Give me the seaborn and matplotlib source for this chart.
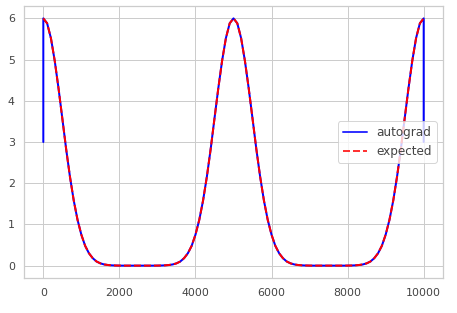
import matplotlib
matplotlib.use("Agg")
import matplotlib.pyplot as plt
import seaborn as sns

sns.set_theme(style="whitegrid")
plt.rcParams['font.family'] = ['DejaVu Sans']

x_values = list(range(0, 10001, 100))

expected = [
    6.00, 5.88, 5.52, 4.97, 4.30, 3.57, 2.83, 2.16, 1.58, 1.11, 0.75, 0.48, 0.30, 0.18, 0.10,
    0.055, 0.029, 0.015, 0.007, 0.003, 0.001, 0.0, 0.0, 0.0, 0.0, 0.0,
    0.0, 0.0, 0.0, 0.0, 0.001, 0.003, 0.007, 0.015, 0.029, 0.055,
    0.10, 0.18, 0.30, 0.48, 0.75, 1.11, 1.58, 2.16, 2.83, 3.57, 4.30, 4.97, 5.52, 5.88,
    6.00, 5.88, 5.52, 4.97, 4.30, 3.57, 2.83, 2.16, 1.58, 1.11, 0.75, 0.48, 0.30, 0.18, 0.10,
    0.055, 0.029, 0.015, 0.007, 0.003, 0.001, 0.0, 0.0, 0.0, 0.0, 0.0,
    0.0, 0.0, 0.0, 0.0, 0.001, 0.003, 0.007, 0.015, 0.029, 0.055,
    0.10, 0.18, 0.30, 0.48, 0.75, 1.11, 1.58, 2.16, 2.83, 3.57, 4.30, 4.97, 5.52, 5.88,
    6.00,
]
autograd_start = 3.0
autograd_end = 3.0
autograd_x = [0] + x_values + [10000]
autograd_y = [autograd_start] + expected + [autograd_end]

fig = plt.figure(figsize=(457 / 72, 313 / 72), dpi=72)
ax = fig.add_axes([24.3 / 457, 1 - 278 / 313, (442.7 - 24.3) / 457, (278 - 6) / 313])

sns.lineplot(x=autograd_x, y=autograd_y, ax=ax, color="blue", lw=2, sort=False,
             estimator=None, label="autograd")
sns.lineplot(x=x_values, y=expected, ax=ax, color="red", lw=2, linestyle="--",
             estimator=None, sort=False, label="expected")
ax.lines[1].set_dashes([3.5, 1.5])

ax.set_xlim(-500, 10500)
ax.set_ylim(-0.3, 6.3)
ax.set_xticks([0, 2000, 4000, 6000, 8000, 10000])
ax.set_yticks([0, 1, 2, 3, 4, 5, 6])
ax.tick_params(labelsize=11, colors="#444444")
leg = ax.legend(loc="center right", fontsize=12)
for h in leg.get_lines():
    h.set_alpha(0.8)
for t in leg.get_texts():
    t.set_color("#444444")

fig.savefig("out.png", dpi=72)
